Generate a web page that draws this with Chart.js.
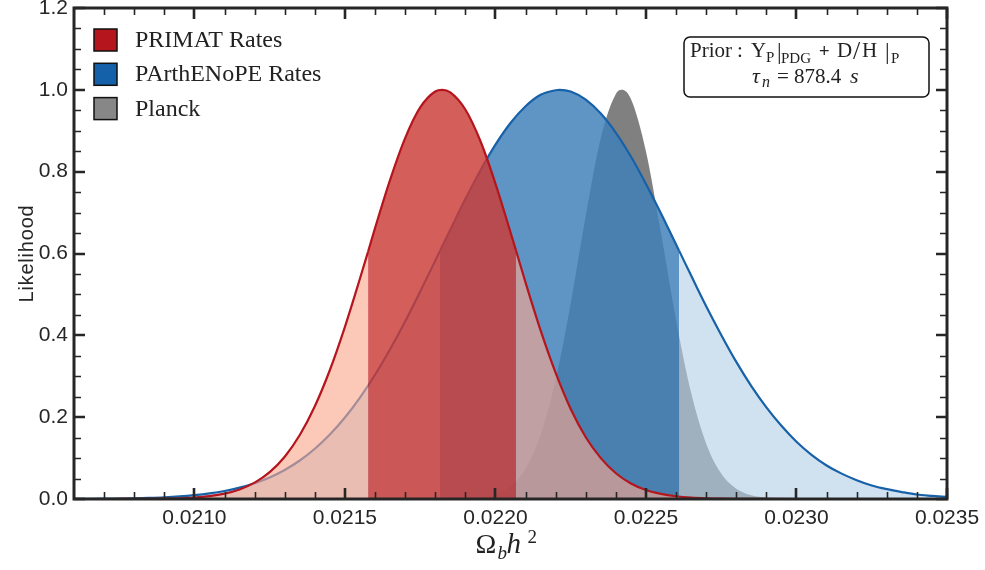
<!DOCTYPE html>
<html>
<head>
<meta charset="utf-8">
<script src="https://cdn.jsdelivr.net/npm/chart.js@4.4.1/dist/chart.umd.min.js"></script>
<style>
  html, body { margin: 0; padding: 0; background: #fff; }
</style>
</head>
<body>
<canvas id="likeChart" width="985" height="570"></canvas>
<script>
// Omega_b h^2 values and normalised likelihoods
const omegaPrimat = [0.02060, 0.02065, 0.02070, 0.02075, 0.02080, 0.02085, 0.02090, 0.02095, 0.02100, 0.02105,
  0.02110, 0.02115, 0.02120, 0.02125, 0.02130, 0.02135, 0.02140, 0.02145, 0.02150, 0.02155, 0.021577,
  0.02160, 0.02165, 0.02170, 0.02175, 0.02180, 0.021823, 0.02185, 0.02190, 0.02195, 0.02200, 0.02205,
  0.022068, 0.02210, 0.02215, 0.02220, 0.02225, 0.02230, 0.02235, 0.02240, 0.02245, 0.02250, 0.02255,
  0.02260, 0.02265, 0.02270, 0.02275, 0.02280, 0.02285, 0.02290, 0.02300, 0.02350];
const likePrimat = [0, 0, 0, 0.0001, 0.0002, 0.0004, 0.0009, 0.0018, 0.0036, 0.0070,
  0.0131, 0.0234, 0.0400, 0.0656, 0.1034, 0.1563, 0.2267, 0.3153, 0.4209, 0.5389, 0.605,
  0.662, 0.780, 0.882, 0.957, 0.996, 1.000, 0.994, 0.952, 0.875, 0.771, 0.652,
  0.608, 0.529, 0.412, 0.308, 0.220, 0.151, 0.100, 0.063, 0.038, 0.022, 0.0125,
  0.0067, 0.0034, 0.0017, 0.0008, 0.0004, 0.0002, 0.0001, 0, 0];

const omegaParth = [0.02060, 0.02065, 0.02070, 0.02075, 0.02080, 0.02085, 0.02090, 0.02095, 0.02100, 0.02105,
  0.02110, 0.02115, 0.02120, 0.02125, 0.02130, 0.02135, 0.02140, 0.02145, 0.02150, 0.02155,
  0.02160, 0.02165, 0.02170, 0.02175, 0.02180, 0.021816, 0.02185, 0.02190, 0.02195, 0.02200,
  0.02205, 0.02210, 0.02215, 0.02220, 0.022213, 0.02225, 0.02230, 0.02235, 0.02240, 0.02245,
  0.02250, 0.02255, 0.02260, 0.02261, 0.02265, 0.02270, 0.02275, 0.02280, 0.02285, 0.02290,
  0.02295, 0.02300, 0.02305, 0.02310, 0.02315, 0.02320, 0.02325, 0.02330, 0.02335, 0.02340,
  0.02345, 0.02350];
const likeParth = [0.0003, 0.0004, 0.0007, 0.0011, 0.0018, 0.0028, 0.0042, 0.0063, 0.0094, 0.0137,
  0.0196, 0.0277, 0.0386, 0.0527, 0.0710, 0.0941, 0.1228, 0.1577, 0.1993, 0.2480,
  0.3036, 0.366, 0.434, 0.507, 0.582, 0.607, 0.658, 0.733, 0.803, 0.866,
  0.919, 0.960, 0.988, 0.999, 1.000, 0.996, 0.976, 0.942, 0.895, 0.837,
  0.770, 0.698, 0.622, 0.607, 0.546, 0.471, 0.401, 0.335, 0.276, 0.224,
  0.179, 0.140, 0.108, 0.082, 0.062, 0.046, 0.033, 0.024, 0.017, 0.011,
  0.0078, 0.0052];

const omegaPlanck = [0.02180, 0.02185, 0.02190, 0.02195, 0.02200, 0.02205, 0.02210, 0.02215, 0.02220,
  0.02225, 0.02230, 0.02235, 0.02240, 0.02242, 0.02245, 0.02250, 0.02255, 0.02260, 0.02265,
  0.02270, 0.02275, 0.02280, 0.02285, 0.02290, 0.02295, 0.02300, 0.02305];
const likePlanck = [0, 0.0002, 0.0010, 0.0036, 0.0111, 0.0304, 0.0734, 0.1557, 0.2909,
  0.4785, 0.6925, 0.8825, 0.9899, 1.000, 0.9773, 0.8494, 0.6498, 0.4376, 0.2594,
  0.1353, 0.0622, 0.0251, 0.0089, 0.0028, 0.0008, 0.0002, 0];

// 68% intervals (darker shading)
const primatBand = [0.021577, 0.022068];
const parthBand = [0.021816, 0.02261];

const seriesNames = ['PRIMAT Rates', 'PArthENoPE Rates', 'Planck'];
const xTicks = [0.0210, 0.0215, 0.0220, 0.0225, 0.0230, 0.0235];
const yTicks = [0.0, 0.2, 0.4, 0.6, 0.8, 1.0, 1.2];

const sans = "'Liberation Sans', Arial, sans-serif";
const serif = "'Liberation Serif', 'Times New Roman', serif";
const ink = '#262626';

function toPoints(xs, ys) {
  return xs.map((x, i) => ({ x: x, y: ys[i] }));
}

// segment fill colour: darker inside the band
function bandFill(band, dark) {
  return c => (c.p0.parsed.x >= band[0] - 1e-9 && c.p1.parsed.x <= band[1] + 1e-9) ? dark : undefined;
}

const framePlugin = {
  id: 'frame',
  afterDatasetsDraw(chart) {
    const { ctx, chartArea: a, scales: { x, y } } = chart;
    ctx.save();
    ctx.strokeStyle = ink;
    ctx.lineCap = 'butt';

    // minor ticks
    ctx.lineWidth = 1.6;
    ctx.beginPath();
    for (let i = 207; i <= 234; i++) {
      if (i % 5 === 0) continue;
      const px = Math.round(x.getPixelForValue(i / 10000)) + 0.5;
      ctx.moveTo(px, a.bottom); ctx.lineTo(px, a.bottom - 7);
      ctx.moveTo(px, a.top); ctx.lineTo(px, a.top + 7);
    }
    for (let i = 1; i < 24; i++) {
      if (i % 4 === 0) continue;
      const py = Math.round(y.getPixelForValue(i * 0.05)) + 0.5;
      ctx.moveTo(a.left, py); ctx.lineTo(a.left + 7, py);
      ctx.moveTo(a.right, py); ctx.lineTo(a.right - 7, py);
    }
    ctx.stroke();

    // major ticks
    ctx.lineWidth = 2.6;
    ctx.beginPath();
    xTicks.forEach(v => {
      const px = Math.round(x.getPixelForValue(v));
      ctx.moveTo(px, a.bottom); ctx.lineTo(px, a.bottom - 11);
      ctx.moveTo(px, a.top); ctx.lineTo(px, a.top + 11);
    });
    yTicks.forEach(v => {
      const py = Math.round(y.getPixelForValue(v));
      ctx.moveTo(a.left, py); ctx.lineTo(a.left + 11, py);
      ctx.moveTo(a.right, py); ctx.lineTo(a.right - 11, py);
    });
    ctx.stroke();

    ctx.lineWidth = 3;
    ctx.strokeRect(a.left, a.top, a.right - a.left, a.bottom - a.top);
    ctx.restore();
  },
  afterDraw(chart) {
    const { ctx, chartArea: a } = chart;
    ctx.save();

    // legend
    const swatch = ['#b5161e', '#1561a9', '#878787'];
    seriesNames.forEach((name, i) => {
      const top = a.top + 21 + i * 34.3;
      ctx.fillStyle = swatch[i];
      ctx.fillRect(a.left + 20, top, 23, 22);
      ctx.lineWidth = 1.5;
      ctx.strokeStyle = '#111';
      ctx.strokeRect(a.left + 20, top, 23, 22);
      ctx.fillStyle = '#222';
      ctx.font = '24px ' + serif;
      ctx.textBaseline = 'alphabetic';
      ctx.textAlign = 'left';
      ctx.fillText(name, a.left + 61, top + 18);
    });

    // annotation box
    const bx = 684, by = 37, bw = 245, bh = 60;
    ctx.beginPath();
    ctx.roundRect(bx, by, bw, bh, 6);
    ctx.fillStyle = '#fff';
    ctx.fill();
    ctx.lineWidth = 1.5;
    ctx.strokeStyle = '#111';
    ctx.stroke();
    ctx.fillStyle = '#222';
    const r21 = '21px ' + serif, r15 = '15px ' + serif, bar = '23px ' + serif;
    const i21 = 'italic 22px ' + serif, i15 = 'italic 16px ' + serif;
    const runs = [
      ['Prior', r21, 6, 57], [':', r21, 53, 57], ['Y', r21, 67, 57], ['P', r15, 82, 62],
      ['|', bar, 93, 59], ['PDG', r15, 97, 63], ['+', '18px ' + sans, 135, 57],
      ['D', r21, 153, 57], ['/', '26px ' + serif, 169, 59], ['H', r21, 178, 57], ['|', bar, 201, 59], ['P', r15, 207, 63],
      ['\u03c4', i21, 68, 83], ['n', i15, 78, 87], ['=', r21, 93, 83], ['878.4', r21, 110, 83], ['s', i21, 166, 83]
    ];
    runs.forEach(([t, f, dx, yb]) => {
      ctx.font = f;
      ctx.fillText(t, bx + dx, yb);
    });

    // axis titles
    ctx.fillStyle = ink;
    ctx.save();
    ctx.translate(27, (a.top + a.bottom) / 2);
    ctx.rotate(-Math.PI / 2);
    ctx.font = '20px ' + sans;
    ctx.letterSpacing = '0.8px';
    ctx.textAlign = 'center';
    ctx.textBaseline = 'middle';
    ctx.fillText('Likelihood', 0, 0);
    ctx.restore();

    const cx = (a.left + a.right) / 2 - 35;
    ctx.fillStyle = '#222';
    ctx.font = '28px ' + serif;
    ctx.fillText('\u03a9', cx, 553);
    ctx.font = 'italic 19px ' + serif;
    ctx.fillText('b', cx + 22, 559);
    ctx.font = 'italic 29px ' + serif;
    ctx.fillText('h', cx + 31, 553);
    ctx.font = '19px ' + serif;
    ctx.fillText('2', cx + 52, 543);
    ctx.restore();
  }
};

new Chart(document.getElementById('likeChart'), {
  type: 'line',
  data: {
    datasets: [
      {
        label: seriesNames[0],
        data: toPoints(omegaPrimat, likePrimat),
        borderColor: '#b5151d',
        borderWidth: 2.2,
        backgroundColor: 'rgba(250,167,141,0.625)',
        fill: 'origin',
        pointRadius: 0,
        cubicInterpolationMode: 'monotone',
        segment: { backgroundColor: bandFill(primatBand, 'rgba(203,59,55,0.825)') }
      },
      {
        label: seriesNames[1],
        data: toPoints(omegaParth, likeParth),
        borderColor: '#1761a9',
        borderWidth: 2.2,
        backgroundColor: 'rgba(178,208,231,0.61)',
        fill: 'origin',
        pointRadius: 0,
        cubicInterpolationMode: 'monotone',
        segment: { backgroundColor: bandFill(parthBand, 'rgba(64,128,186,0.835)') }
      },
      {
        label: seriesNames[2],
        data: toPoints(omegaPlanck, likePlanck),
        borderColor: '#808080',
        borderWidth: 0,
        backgroundColor: '#808080',
        fill: 'origin',
        pointRadius: 0,
        cubicInterpolationMode: 'monotone'
      }
    ]
  },
  options: {
    responsive: false,
    animation: false,
    layout: { padding: { top: 8, right: 38, left: 0, bottom: 0 } },
    plugins: { legend: { display: false }, tooltip: { enabled: false } },
    scales: {
      x: {
        type: 'linear',
        min: 0.0206,
        max: 0.0235,
        grid: { display: false, drawTicks: false },
        border: { display: false },
        ticks: {
          font: { family: sans, size: 21 },
          color: ink,
          padding: 7,
          maxRotation: 0,
          autoSkip: false,
          callback: v => v.toFixed(4)
        },
        afterBuildTicks: s => { s.ticks = xTicks.map(v => ({ value: v })); },
        afterFit: s => { s.height = 71; s.paddingLeft = 0; s.paddingRight = 0; }
      },
      y: {
        min: 0,
        max: 1.2,
        grid: { display: false, drawTicks: false },
        border: { display: false },
        ticks: {
          font: { family: sans, size: 21 },
          color: ink,
          padding: 6,
          callback: v => v.toFixed(1)
        },
        afterBuildTicks: s => { s.ticks = yTicks.map(v => ({ value: v })); },
        afterFit: s => { s.width = 74; s.paddingTop = 0; s.paddingBottom = 0; }
      }
    }
  },
  plugins: [framePlugin]
});
</script>
</body>
</html>
